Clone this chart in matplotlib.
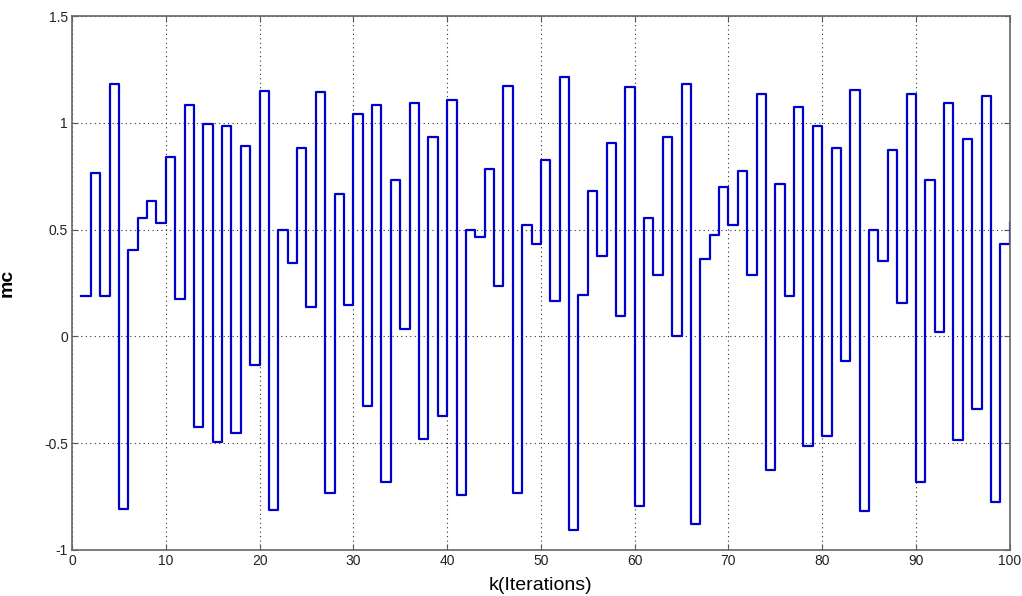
import matplotlib.pyplot as plt
import numpy as np

# controller output mc at each iteration k
k = np.arange(1, 101)
mc = [0.19, 0.766, 0.19, 1.18, -0.806, 0.404, 0.553, 0.636, 0.532, 0.842,
      0.173, 1.083, -0.425, 0.995, -0.496, 0.986, -0.454, 0.893, -0.135, 1.147,
      -0.815, 0.50, 0.343, 0.884, 0.139, 1.146, -0.733, 0.669, 0.146, 1.043,
      -0.328, 1.085, -0.681, 0.733, 0.035, 1.095, -0.478, 0.936, -0.374, 1.107,
      -0.742, 0.50, 0.466, 0.785, 0.236, 1.172, -0.733, 0.523, 0.435, 0.827,
      0.168, 1.215, -0.905, 0.194, 0.683, 0.376, 0.905, 0.095, 1.168, -0.794,
      0.553, 0.286, 0.936, 0.0, 1.182, -0.880, 0.362, 0.477, 0.702, 0.523,
      0.775, 0.286, 1.135, -0.626, 0.716, 0.187, 1.075, -0.513, 0.986, -0.468,
      0.884, -0.116, 1.156, -0.816, 0.497, 0.352, 0.873, 0.156, 1.135, -0.683,
      0.733, 0.023, 1.094, -0.487, 0.925, -0.341, 1.125, -0.775, 0.435, 0.532]

xticks = np.arange(0, 101, 10)
yticks = [-1, -0.5, 0, 0.5, 1, 1.5]
ytick_labels = ["-1", "-0.5", "0", "0.5", "1", "1.5"]

plt.rcParams['font.family'] = ['Liberation Sans', 'DejaVu Sans']

fig = plt.figure(figsize=(10.22, 5.96), dpi=100)
ax = fig.add_axes([0.0705, 0.0772, 0.9175, 0.8958])

ax.step(k, mc, where='post', color='#0000cc', linewidth=1.6)

ax.set_xlim(0, 100)
ax.set_ylim(-1, 1.5)
ax.set_xticks(xticks)
ax.set_yticks(yticks)
ax.set_yticklabels(ytick_labels)
ax.tick_params(direction='in', length=4, top=True, right=True,
               labelsize=10, color='#555555', labelcolor='#222222', pad=3)
ax.grid(True, linestyle=(0, (1, 3)), color='#333333', linewidth=0.8)
for s in ax.spines.values():
    s.set_color('#666666')
    s.set_linewidth(1.2)

ax.set_xlabel("k(Iterations)", fontsize=14)
ax.set_ylabel("mc", fontsize=14, fontweight='bold')
ax.xaxis.set_label_coords(0.5, -0.05)
ax.yaxis.set_label_coords(-0.06, 0.5)

plt.savefig("out.png", dpi=100)
